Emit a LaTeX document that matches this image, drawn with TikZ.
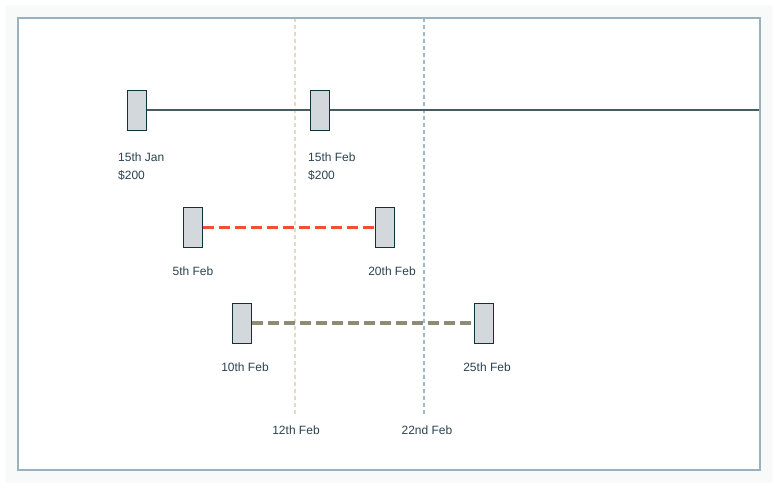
\documentclass[tikz,border=0pt]{standalone}
\usepackage{fontspec}
\setmainfont{Liberation Sans}
\definecolor{frm}{HTML}{9AB2BE}
\definecolor{boxf}{HTML}{D3D8DC}
\definecolor{boxd}{HTML}{13303F}
\definecolor{txt}{HTML}{2B4352}
\definecolor{lineA}{HTML}{4A5A62}
\definecolor{lineB}{HTML}{F24C36}
\definecolor{lineC}{HTML}{8E8B77}
\definecolor{vA}{HTML}{E2DBC0}
\definecolor{vB}{HTML}{9DBBC6}
\tikzstyle{bx}=[rectangle,draw=boxd,fill=boxf,line width=1pt,minimum width=19pt,minimum height=40pt,inner sep=0pt]
\tikzstyle{lb}=[text=txt,font=\fontsize{12}{14}\selectfont,anchor=west,inner sep=0pt]
\tikzstyle{dsh}=[line width=3.5pt,dash pattern=on 11pt off 5pt]
\tikzstyle{vln}=[line width=1.5pt,dash pattern=on 4pt off 3pt]

\begin{document}
\begin{tikzpicture}[x=1pt,y=-1pt]
\useasboundingbox (0,0) rectangle (778,488);
\foreach \i in {1,...,12} {\draw[frm,opacity=.035,line width=1.5pt] (18-\i,18-\i) rectangle (760+\i,470+\i);}
\fill[white] (18,18) rectangle (760,470);
% date markers
\coordinate (t12) at (295,18); \coordinate (b12) at (295,416);
\coordinate (t22) at (424,18); \coordinate (b22) at (424,416);
\draw[vln,vA] (t12) -- (b12);
\draw[vln,vB] (t22) -- (b22);
\node[lb,anchor=center] (d12) at (296,430) {12th Feb};
\node[lb,anchor=center] (d22) at (427,430) {22nd Feb};
% row 1
\node[bx] (jan) at (136.5,110) {};
\node[bx] (feb) at (319.5,110) {};
\coordinate (rend) at (760,110);
\draw[lineA,line width=1.5pt] (jan) -- (feb);
\draw[lineA,line width=1.5pt] (feb) -- (rend);
\node[lb] (ljan) at (118,157) {15th Jan};
\node[lb] (pjan) at (118,175) {\$200};
\node[lb] (lfeb) at (308,157) {15th Feb};
\node[lb] (pfeb) at (308,175) {\$200};
% row 2
\node[bx] (s5) at (192.5,227.5) {};
\node[bx] (e20) at (384.5,227.5) {};
\draw[dsh,lineB] (s5.east) -- (e20.west);
\node[lb,anchor=center] (l5) at (193,271) {5th Feb};
\node[lb,anchor=center] (l20) at (392,271) {20th Feb};
% row 3
\node[bx] (s10) at (241.5,323) {};
\node[bx] (e25) at (483.5,323) {};
\draw[dsh,lineC] (s10.east) -- (e25.west);
\node[lb,anchor=center] (l10) at (245,367) {10th Feb};
\node[lb,anchor=center] (l25) at (487,367) {25th Feb};
% frame
\draw[frm,line width=2pt] (18,18) rectangle (760,470);
\end{tikzpicture}
\end{document}
